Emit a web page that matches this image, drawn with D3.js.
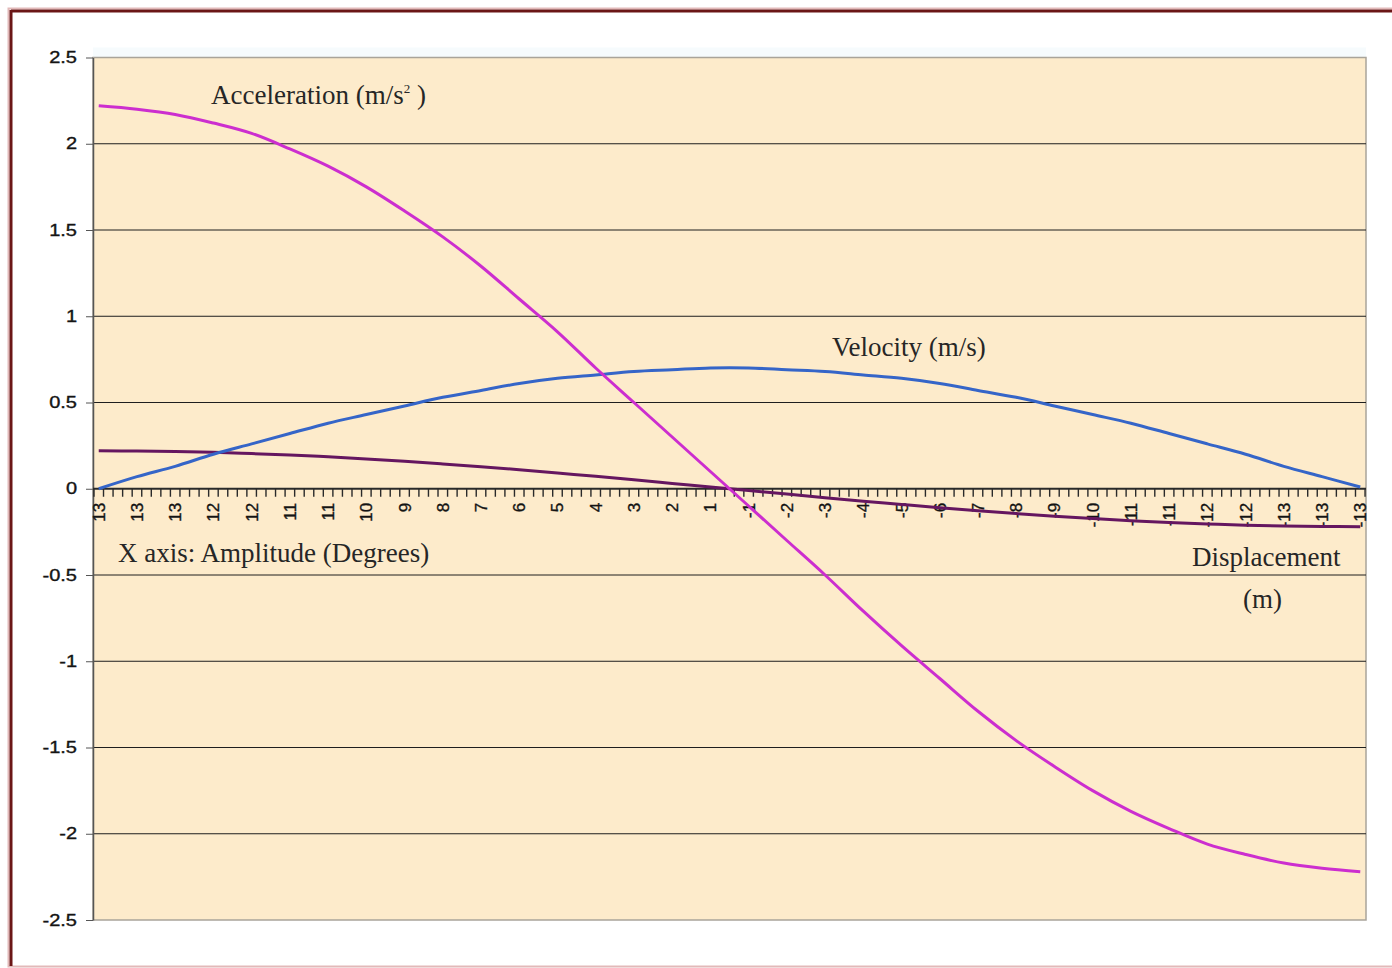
<!DOCTYPE html>
<html>
<head>
<meta charset="utf-8">
<script src="https://cdn.jsdelivr.net/npm/d3@7"></script>
<style>
  html, body { margin: 0; padding: 0; background: #ffffff; }
  svg { display: block; }
</style>
</head>
<body>
<svg id="chart" width="1392" height="968"></svg>
<script>
// Pendulum swing: amplitude labels (degrees) along the x axis
const amplitudeLabels = ["13","13","13","12","12","11","11","10","9","8","7","6","5","4","3","2","1",
  "-1","-2","-3","-4","-5","-6","-7","-8","-9","-10","-11","-11","-12","-12","-13","-13","-13"];

// Acceleration (m/s²)
const acceleration = [2.22, 2.20, 2.17, 2.12, 2.06, 1.97, 1.87, 1.75, 1.61, 1.46, 1.29, 1.10, 0.91, 0.70, 0.50, 0.30, 0.10,
  -0.10, -0.30, -0.50, -0.71, -0.91, -1.10, -1.29, -1.46, -1.61, -1.75, -1.87, -1.97, -2.06, -2.12, -2.17, -2.20, -2.22];

// Velocity (m/s)
const velocity = [0.00, 0.07, 0.13, 0.20, 0.26, 0.32, 0.38, 0.43, 0.48, 0.53, 0.57, 0.61, 0.64, 0.66, 0.68, 0.69, 0.70,
  0.70, 0.69, 0.68, 0.66, 0.64, 0.61, 0.57, 0.53, 0.48, 0.43, 0.38, 0.32, 0.26, 0.20, 0.13, 0.07, 0.01];

// Displacement (m)
const displacement = [0.220, 0.219, 0.216, 0.211, 0.204, 0.196, 0.185, 0.173, 0.159, 0.144, 0.128, 0.110, 0.091, 0.072, 0.052, 0.031, 0.010,
  -0.010, -0.031, -0.052, -0.072, -0.091, -0.110, -0.128, -0.144, -0.159, -0.173, -0.185, -0.196, -0.204, -0.211, -0.216, -0.219, -0.220];

const yTicks = [2.5, 2, 1.5, 1, 0.5, 0, -0.5, -1, -1.5, -2, -2.5];

const svg = d3.select("#chart");

// Page frame
svg.append("rect").attr("x", 8.5).attr("y", 8.5).attr("width", 1400).attr("height", 958)
  .attr("fill", "none").attr("stroke", "#e2b9b9").attr("stroke-width", 2);
svg.append("line").attr("x1", 11).attr("x2", 1392).attr("y1", 11).attr("y2", 11)
  .attr("stroke", "#6b1616").attr("stroke-width", 3);
svg.append("line").attr("x1", 11).attr("x2", 11).attr("y1", 10).attr("y2", 966)
  .attr("stroke", "#6b1616").attr("stroke-width", 3);

const plot = { left: 93, right: 1366, top: 57.5, bottom: 920 };

const x = d3.scalePoint().domain(d3.range(amplitudeLabels.length))
  .range([plot.left, plot.right]).padding(0.15);
const xi = d3.scaleLinear().domain([0, amplitudeLabels.length - 1])
  .range([x(0), x(amplitudeLabels.length - 1)]);
const y = d3.scaleLinear().domain([-2.5, 2.5]).range([plot.bottom, plot.top]);

// Plot background
svg.append("rect").attr("x", plot.left).attr("y", plot.top - 10)
  .attr("width", plot.right - plot.left).attr("height", 10).attr("fill", "#f6fbfd");
svg.append("rect").attr("x", plot.left).attr("y", plot.top)
  .attr("width", plot.right - plot.left).attr("height", plot.bottom - plot.top)
  .attr("fill", "#fdebcb").attr("stroke", "#a9a49a").attr("stroke-width", 1.5);

// Horizontal gridlines
svg.append("g").selectAll("line").data(yTicks.filter(v => v !== 2.5 && v !== -2.5 && v !== 0)).join("line")
  .attr("x1", plot.left).attr("x2", plot.right)
  .attr("y1", d => y(d)).attr("y2", d => y(d))
  .attr("stroke", "#1e1e1e").attr("stroke-width", 1);

// Y axis
const yAxis = svg.append("g").attr("transform", `translate(${plot.left},0)`)
  .call(d3.axisLeft(y).tickValues(yTicks).tickSize(7).tickSizeOuter(0).tickPadding(9)
    .tickFormat(d => String(d)));
yAxis.select(".domain").attr("stroke", "#555").attr("stroke-width", 1.5);
yAxis.selectAll(".tick line").attr("stroke", "#555");
yAxis.selectAll(".tick text")
  .attr("font-family", "Liberation Sans, Arial, sans-serif")
  .attr("font-size", 16).attr("fill", "#141414")
  .attr("stroke", "#141414").attr("stroke-width", 0.35)
  .each(function () {
    const w = this.getComputedTextLength();
    d3.select(this).attr("textLength", w * 1.25).attr("lengthAdjust", "spacingAndGlyphs");
  });

// X axis along zero
const y0 = y(0);
svg.append("line").attr("x1", plot.left).attr("x2", plot.right).attr("y1", y0).attr("y2", y0)
  .attr("stroke", "#2a2a2a").attr("stroke-width", 2);
const minorTicks = d3.range(-0.125, amplitudeLabels.length - 1 + 0.2, 0.25);
svg.append("g").selectAll("line").data(minorTicks).join("line")
  .attr("x1", d => xi(d)).attr("x2", d => xi(d))
  .attr("y1", y0).attr("y2", y0 + 8)
  .attr("stroke", "#2a2a2a").attr("stroke-width", 1.4);
svg.append("g").selectAll("text").data(amplitudeLabels).join("text")
  .attr("transform", (d, i) => `translate(${x(i) + 6},${y0 + 14}) rotate(-90)`)
  .attr("text-anchor", "end")
  .attr("font-family", "Liberation Sans, Arial, sans-serif")
  .attr("font-size", 17).attr("fill", "#141414")
  .attr("stroke", "#141414").attr("stroke-width", 0.35)
  .text(d => d);

// Series lines
const line = d3.line().x((d, i) => x(i)).y(d => y(d)).curve(d3.curveCatmullRom.alpha(0.5));
const series = [
  { values: displacement, color: "#651660" },
  { values: velocity, color: "#3565c8" },
  { values: acceleration, color: "#cc2ecf" }
];
svg.append("g").selectAll("path").data(series).join("path")
  .attr("d", d => line(d.values))
  .attr("fill", "none").attr("stroke", d => d.color)
  .attr("stroke-width", 3).attr("stroke-linejoin", "round");

// Series annotations
const serif = "Liberation Serif, Times New Roman, serif";
const ann = svg.append("g").attr("font-family", serif).attr("font-size", 27).attr("fill", "#262626");
const acc = ann.append("text").attr("x", 211).attr("y", 104);
acc.append("tspan").text("Acceleration (m/s");
acc.append("tspan").attr("font-size", 13).attr("dy", -11).text("2");
acc.append("tspan").attr("dy", 11).text(" )");
ann.append("text").attr("x", 832).attr("y", 356).text("Velocity (m/s)");
ann.append("text").attr("x", 118).attr("y", 562).text("X axis: Amplitude (Degrees)");
ann.append("text").attr("x", 1192).attr("y", 566).text("Displacement");
ann.append("text").attr("x", 1243).attr("y", 608).text("(m)");
</script>
</body>
</html>
